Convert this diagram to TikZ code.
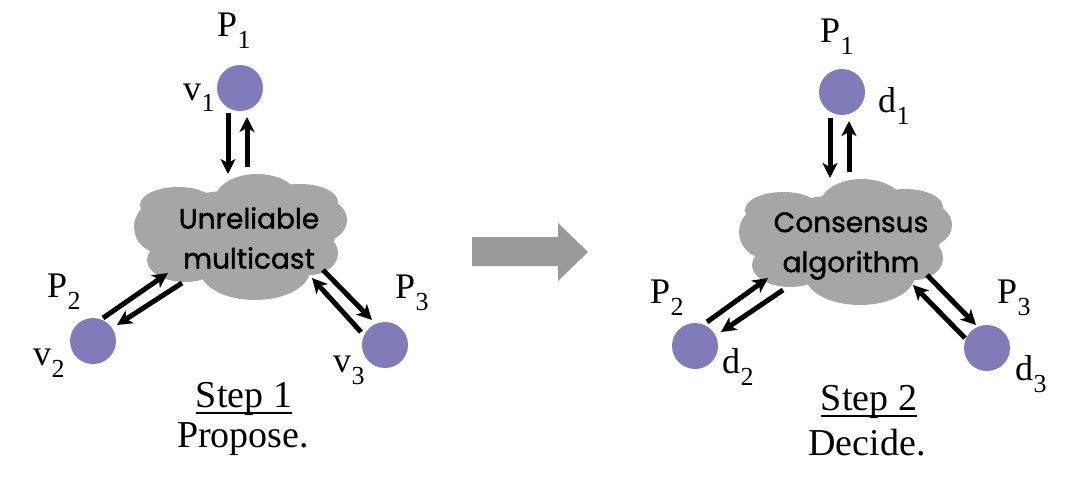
\documentclass[tikz,border=0pt]{standalone}
\usepackage{fontspec}
\setmainfont{Liberation Serif}
\newfontfamily\cloudfont[FakeBold=1.5]{Poppins}
\usetikzlibrary{arrows.meta,calc}
\definecolor{procol}{RGB}{128,124,186}
\definecolor{cloudgray}{RGB}{166,166,166}
\definecolor{biggray}{RGB}{153,153,153}
\newcommand\lab[2]{#1\kern0.5pt\raisebox{-12pt}{\fontsize{26}{26}\selectfont #2}}
\begin{document}
\begin{tikzpicture}[x=1pt,y=-1pt,
  proc/.style={circle,fill=procol,minimum size=46pt,inner sep=0pt},
  lbl/.style={anchor=base west,inner sep=0pt,font=\fontsize{36}{40}\selectfont},
  cloudtxt/.style={align=center,inner sep=0pt,font=\cloudfont\fontsize{28}{40}\selectfont},
  conn/.style={line width=5pt,-{Stealth[length=15pt,width=15pt,inset=4pt]}},
  steptxt/.style={anchor=base,inner sep=0pt,font=\fontsize{38}{40}\selectfont},
  pics/blob/.style={code={
    \fill[cloudgray] (0,0) ellipse [x radius=95pt, y radius=45pt];
    \fill[cloudgray] (17,-35) ellipse [x radius=42pt, y radius=26pt];
    \fill[cloudgray] (-62,-30) ellipse [x radius=38pt, y radius=18pt];
    \fill[cloudgray] (-80,-8) ellipse [x radius=26pt, y radius=26pt];
    \fill[cloudgray] (-55,25) ellipse [x radius=38pt, y radius=22pt];
    \fill[cloudgray] (15,35) ellipse [x radius=55pt, y radius=30pt];
    \fill[cloudgray] (80,-15) ellipse [x radius=27pt, y radius=22pt];
    \fill[cloudgray] (60,-33) ellipse [x radius=38pt, y radius=18pt];
    \fill[cloudgray] (70,18) ellipse [x radius=28pt, y radius=22pt];
  }}
]
\useasboundingbox (0,0) rectangle (1080,487);

% ---------- left: Step 1 ----------
\pic at (240,235) {blob};
\node[cloudtxt] (Lcloud) at (249,238) {Unreliable\\multicast};

\node[proc] (Lc1) at (240,88) {};
\node[proc] (Lc2) at (93,341) {};
\node[proc] (Lc3) at (385,345) {};

\node[lbl] (LP1) at (217,37) {\lab{P}{1}};
\node[lbl] (Lv1) at (183,100) {\lab{v}{1}};
\node[lbl] (LP2) at (47,297) {\lab{P}{2}};
\node[lbl] (Lv2) at (33,365) {\lab{v}{2}};
\node[lbl] (LP3) at (395,298) {\lab{P}{3}};
\node[lbl] (Lv3) at (333,372) {\lab{v}{3}};

\coordinate (La1s) at (228,113); \coordinate (La1e) at (228,174);
\coordinate (La2s) at (247,167); \coordinate (La2e) at (247,117);
\coordinate (Lb1s) at (103,318); \coordinate (Lb1e) at (168,273);
\coordinate (Lb2s) at (182,283); \coordinate (Lb2e) at (117,325);
\coordinate (Lc1s) at (323,270); \coordinate (Lc1e) at (372,320);
\coordinate (Lc2s) at (361,332); \coordinate (Lc2e) at (312,278);
\draw[conn] (La1s) -- (La1e);
\draw[conn] (La2s) -- (La2e);
\draw[conn] (Lb1s) -- (Lb1e);
\draw[conn] (Lb2s) -- (Lb2e);
\draw[conn] (Lc1s) -- (Lc1e);
\draw[conn] (Lc2s) -- (Lc2e);

\node[steptxt] (Ls1) at (244,407) {Step 1};
\draw[line width=1.5pt] ([yshift=-6pt]Ls1.base west) -- ([yshift=-6pt]Ls1.base east);
\node[steptxt] (Ls2) at (243,447) {Propose.};

% ---------- big arrow ----------
\fill[biggray] (472,237) -- (558,237) -- (558,223) -- (588,252) -- (558,281) -- (558,266) -- (472,266) -- cycle;

% ---------- right: Step 2 ----------
\pic at (845,240) {blob};
\node[cloudtxt] (Rcloud) at (851,246) {Consensus\\algorithm};

\node[proc] (Rc1) at (842,92) {};
\node[proc] (Rc2) at (695,346) {};
\node[proc] (Rc3) at (987,348) {};

\node[lbl] (RP1) at (820,43) {\lab{P}{1}};
\node[lbl] (Rd1) at (878,113) {\lab{d}{1}};
\node[lbl] (RP2) at (650,303) {\lab{P}{2}};
\node[lbl] (Rd2) at (722,373) {\lab{d}{2}};
\node[lbl] (RP3) at (997,303) {\lab{P}{3}};
\node[lbl] (Rd3) at (1015,380) {\lab{d}{3}};

\coordinate (Ra1s) at (830,118); \coordinate (Ra1e) at (830,178);
\coordinate (Ra2s) at (849,172); \coordinate (Ra2e) at (849,121);
\coordinate (Rb1s) at (707,322); \coordinate (Rb1e) at (768,278);
\coordinate (Rb2s) at (783,290); \coordinate (Rb2e) at (721,332);
\coordinate (Rc1s) at (927,275); \coordinate (Rc1e) at (976,325);
\coordinate (Rc2s) at (965,338); \coordinate (Rc2e) at (913,285);
\draw[conn] (Ra1s) -- (Ra1e);
\draw[conn] (Ra2s) -- (Ra2e);
\draw[conn] (Rb1s) -- (Rb1e);
\draw[conn] (Rb2s) -- (Rb2e);
\draw[conn] (Rc1s) -- (Rc1e);
\draw[conn] (Rc2s) -- (Rc2e);

\node[steptxt] (Rs1) at (869,410) {Step 2};
\draw[line width=1.5pt] ([yshift=-6pt]Rs1.base west) -- ([yshift=-6pt]Rs1.base east);
\node[steptxt] (Rs2) at (867,455) {Decide.};
\end{tikzpicture}
\end{document}
